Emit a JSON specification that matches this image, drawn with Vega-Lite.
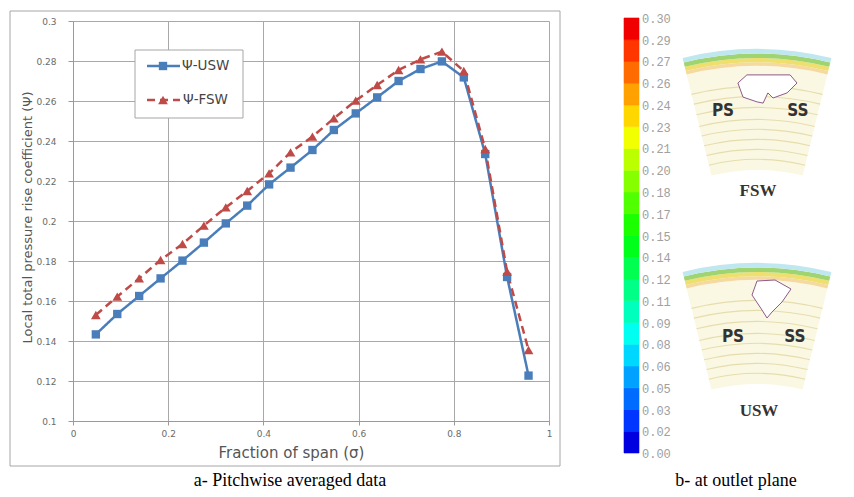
{
 "$schema": "https://vega.github.io/schema/vega-lite/v6.json",
 "width": 476,
 "height": 400,
 "autosize": "none",
 "padding": {"left": 73, "top": 21, "right": 305, "bottom": 76},
 "background": "white",
 "config": {"view": {"stroke": null}},
 "layer": [
  {
   "data": {"values": [
    {"s":"Ψ-USW","sigma":0.048,"psi":0.1433},{"s":"Ψ-USW","sigma":0.093,"psi":0.1535},{"s":"Ψ-USW","sigma":0.139,"psi":0.1625},
    {"s":"Ψ-USW","sigma":0.184,"psi":0.1713},{"s":"Ψ-USW","sigma":0.230,"psi":0.1802},{"s":"Ψ-USW","sigma":0.275,"psi":0.1892},
    {"s":"Ψ-USW","sigma":0.321,"psi":0.1988},{"s":"Ψ-USW","sigma":0.366,"psi":0.2077},{"s":"Ψ-USW","sigma":0.412,"psi":0.2183},
    {"s":"Ψ-USW","sigma":0.457,"psi":0.2267},{"s":"Ψ-USW","sigma":0.503,"psi":0.2355},{"s":"Ψ-USW","sigma":0.548,"psi":0.2455},
    {"s":"Ψ-USW","sigma":0.594,"psi":0.2538},{"s":"Ψ-USW","sigma":0.639,"psi":0.2618},{"s":"Ψ-USW","sigma":0.684,"psi":0.2700},
    {"s":"Ψ-USW","sigma":0.730,"psi":0.2760},{"s":"Ψ-USW","sigma":0.775,"psi":0.2798},{"s":"Ψ-USW","sigma":0.821,"psi":0.2718},
    {"s":"Ψ-USW","sigma":0.866,"psi":0.2335},{"s":"Ψ-USW","sigma":0.912,"psi":0.1720},{"s":"Ψ-USW","sigma":0.957,"psi":0.1227},
    {"s":"Ψ-FSW","sigma":0.048,"psi":0.1530},{"s":"Ψ-FSW","sigma":0.093,"psi":0.1622},{"s":"Ψ-FSW","sigma":0.139,"psi":0.1713},
    {"s":"Ψ-FSW","sigma":0.184,"psi":0.1805},{"s":"Ψ-FSW","sigma":0.230,"psi":0.1885},{"s":"Ψ-FSW","sigma":0.275,"psi":0.1977},
    {"s":"Ψ-FSW","sigma":0.321,"psi":0.2068},{"s":"Ψ-FSW","sigma":0.366,"psi":0.2150},{"s":"Ψ-FSW","sigma":0.412,"psi":0.2238},
    {"s":"Ψ-FSW","sigma":0.457,"psi":0.2343},{"s":"Ψ-FSW","sigma":0.503,"psi":0.2422},{"s":"Ψ-FSW","sigma":0.548,"psi":0.2513},
    {"s":"Ψ-FSW","sigma":0.594,"psi":0.2602},{"s":"Ψ-FSW","sigma":0.639,"psi":0.2680},{"s":"Ψ-FSW","sigma":0.684,"psi":0.2755},
    {"s":"Ψ-FSW","sigma":0.730,"psi":0.2808},{"s":"Ψ-FSW","sigma":0.775,"psi":0.2847},{"s":"Ψ-FSW","sigma":0.821,"psi":0.2750},
    {"s":"Ψ-FSW","sigma":0.866,"psi":0.2360},{"s":"Ψ-FSW","sigma":0.912,"psi":0.1747},{"s":"Ψ-FSW","sigma":0.957,"psi":0.1355}
   ]},
   "encoding": {
    "x": {"field":"sigma","type":"quantitative","scale":{"domain":[0,1],"nice":false,"zero":false},
     "axis":{"values":[0,0.2,0.4,0.6,0.8,1],"format":"~g","title":"Fraction of span (σ)","titleX":218,"titleY":31,"titleBaseline":"middle",
      "titleFont":"DejaVu Sans","titleFontSize":15,"titleFontWeight":"normal","titleColor":"#555555",
      "labelFont":"DejaVu Sans","labelFontSize":9,"labelColor":"#6A6A6A","labelPadding":4,"labelFlush":false,"labelOverlap":false,
      "tickSize":4,"tickColor":"#9A9A9A","domainColor":"#9A9A9A","grid":true,"gridColor":"#A8A8A8","gridWidth":1}},
    "y": {"field":"psi","type":"quantitative","scale":{"domain":[0.1,0.3],"nice":false,"zero":false},
     "axis":{"values":[0.1,0.12,0.14,0.16,0.18,0.2,0.22,0.24,0.26,0.28,0.3],"format":"~g","title":"Local total pressure rise coefficient (Ψ)",
      "titleX":-46,"titleY":196,"titleBaseline":"middle","titleFont":"DejaVu Sans","titleFontSize":13,"titleFontWeight":"normal","titleColor":"#555555",
      "labelFont":"DejaVu Sans","labelFontSize":9,"labelColor":"#6A6A6A","labelPadding":12,"labelFlush":false,"labelOverlap":false,
      "tickSize":5,"tickColor":"#9A9A9A","domainColor":"#9A9A9A","grid":true,"gridColor":"#A8A8A8","gridWidth":1}}
   },
   "layer": [
    {"mark": {"type":"line","strokeWidth":2.5},
     "encoding": {
      "color": {"field":"s","type":"nominal","scale":{"domain":["Ψ-USW","Ψ-FSW"],"range":["#4A7EBB","#BE4B48"]},"legend":null},
      "strokeDash": {"field":"s","type":"nominal","scale":{"domain":["Ψ-USW","Ψ-FSW"],"range":[[1,0],[8,5]]},"legend":null}}},
    {"mark": {"type":"point","filled":true,"opacity":1},
     "encoding": {
      "color": {"field":"s","type":"nominal","scale":{"domain":["Ψ-USW","Ψ-FSW"],"range":["#4A7EBB","#BE4B48"]},"legend":null},
      "size": {"field":"s","type":"nominal","scale":{"domain":["Ψ-USW","Ψ-FSW"],"range":[70,95]},"legend":null},
      "shape": {"field":"s","type":"nominal","scale":{"domain":["Ψ-USW","Ψ-FSW"],"range":["square","triangle-up"]},"legend":null}}}
   ]
  },
  {
   "layer": [
    {
     "layer": [
      {"data": {"values": [
        {"lo":0,"hi":0.015},{"lo":0.015,"hi":0.03},{"lo":0.03,"hi":0.045},{"lo":0.045,"hi":0.06},{"lo":0.06,"hi":0.075},
        {"lo":0.075,"hi":0.09},{"lo":0.09,"hi":0.105},{"lo":0.105,"hi":0.12},{"lo":0.12,"hi":0.135},{"lo":0.135,"hi":0.15},
        {"lo":0.15,"hi":0.165},{"lo":0.165,"hi":0.18},{"lo":0.18,"hi":0.195},{"lo":0.195,"hi":0.21},{"lo":0.21,"hi":0.225},
        {"lo":0.225,"hi":0.24},{"lo":0.24,"hi":0.255},{"lo":0.255,"hi":0.27},{"lo":0.27,"hi":0.285},{"lo":0.285,"hi":0.3}
       ]},
       "mark": {"type":"rect","strokeWidth":0.6},
       "encoding": {
        "x": {"datum":624,"type":"quantitative","scale":{"domain":[73,549],"nice":false,"zero":false},"axis":null},
        "x2": {"datum":639},
        "y": {"field":"lo","type":"quantitative","scale":{"domain":[0.02207,0.29793],"nice":false,"zero":false},"axis":null},
        "y2": {"field":"hi"},
        "color": {"field":"lo","type":"ordinal","sort":"ascending","scale":{"range":["#0000E0","#0036FF","#006BFF","#00A1FF","#00D7FF","#00FFF1","#00FFBC","#00FF86","#00FF50","#00FF1B","#1BFF00","#50FF00","#86FF00","#BCFF00","#F1FF00","#FFD700","#FFA100","#FF6B00","#FF3600","#F00000"]},"legend":null},
        "stroke": {"field":"lo","type":"ordinal","sort":"ascending","scale":{"range":["#0000E0","#0036FF","#006BFF","#00A1FF","#00D7FF","#00FFF1","#00FFBC","#00FF86","#00FF50","#00FF1B","#1BFF00","#50FF00","#86FF00","#BCFF00","#F1FF00","#FFD700","#FFA100","#FF6B00","#FF3600","#F00000"]},"legend":null}
       }},
      {"data": {"values": [
        {"v":0.3,"label":"0.30"},{"v":0.285,"label":"0.29"},{"v":0.27,"label":"0.27"},{"v":0.255,"label":"0.26"},
        {"v":0.24,"label":"0.24"},{"v":0.225,"label":"0.23"},{"v":0.21,"label":"0.21"},{"v":0.195,"label":"0.20"},
        {"v":0.18,"label":"0.18"},{"v":0.165,"label":"0.17"},{"v":0.15,"label":"0.15"},{"v":0.135,"label":"0.14"},
        {"v":0.12,"label":"0.12"},{"v":0.105,"label":"0.11"},{"v":0.09,"label":"0.09"},{"v":0.075,"label":"0.08"},
        {"v":0.06,"label":"0.06"},{"v":0.045,"label":"0.05"},{"v":0.03,"label":"0.03"},{"v":0.015,"label":"0.02"},{"v":0,"label":"0.00"}
       ]},
       "mark": {"type":"text","align":"left","baseline":"middle","font":"Liberation Mono","fontSize":12,"fill":"#A0A0A0","dy":1},
       "encoding": {
        "x": {"datum":642,"type":"quantitative","scale":{"domain":[73,549],"nice":false,"zero":false},"axis":null},
        "y": {"field":"v","type":"quantitative","scale":{"domain":[0.02207,0.29793],"nice":false,"zero":false},"axis":null},
        "text": {"field":"label"}
       }}
     ],
     "resolve": {"scale": {"stroke": "independent"}}
    },
    {
     "data": {"values": [
      {"fan":"FSW","band":"hub","r0":0,"r1":0.86},{"fan":"USW","band":"hub","r0":0,"r1":0.86},
      {"fan":"FSW","band":"pale","r0":0.86,"r1":0.89},{"fan":"USW","band":"pale","r0":0.86,"r1":0.89},
      {"fan":"FSW","band":"yellow","r0":0.89,"r1":0.925},{"fan":"USW","band":"yellow","r0":0.89,"r1":0.925},
      {"fan":"FSW","band":"green","r0":0.925,"r1":0.962},{"fan":"USW","band":"green","r0":0.925,"r1":0.962},
      {"fan":"FSW","band":"cyan","r0":0.962,"r1":1.0},{"fan":"USW","band":"cyan","r0":0.962,"r1":1.0},
      {"fan":"FSW","band":"line","r0":0.083,"r1":0.092},{"fan":"FSW","band":"line","r0":0.165,"r1":0.174},
      {"fan":"FSW","band":"line","r0":0.248,"r1":0.257},{"fan":"FSW","band":"line","r0":0.331,"r1":0.340},
      {"fan":"FSW","band":"line","r0":0.413,"r1":0.422},{"fan":"FSW","band":"line","r0":0.512,"r1":0.521},
      {"fan":"FSW","band":"line","r0":0.603,"r1":0.612},{"fan":"FSW","band":"line","r0":0.686,"r1":0.695},
      {"fan":"USW","band":"line","r0":0.083,"r1":0.092},{"fan":"USW","band":"line","r0":0.165,"r1":0.174},
      {"fan":"USW","band":"line","r0":0.248,"r1":0.257},{"fan":"USW","band":"line","r0":0.331,"r1":0.340},
      {"fan":"USW","band":"line","r0":0.413,"r1":0.422},{"fan":"USW","band":"line","r0":0.512,"r1":0.521},
      {"fan":"USW","band":"line","r0":0.603,"r1":0.612},{"fan":"USW","band":"line","r0":0.686,"r1":0.695}
     ]},
     "mark": {"type":"arc","theta":-0.24,"theta2":0.24},
     "encoding": {
      "x": {"datum":757,"type":"quantitative","scale":{"domain":[73,549],"nice":false,"zero":false},"axis":null},
      "y": {"field":"fan","type":"nominal","scale":{"type":"point","domain":["FSW","USW"],"range":[341,555],"padding":0},"axis":null},
      "radius": {"field":"r1","type":"quantitative","scale":{"type":"linear","domain":[0,1],"range":[192,313],"zero":false}},
      "radius2": {"field":"r0"},
      "fill": {"field":"band","type":"nominal","scale":{"domain":["hub","pale","yellow","green","cyan","line"],"range":["#FAF8E2","#F5D9A0","#EEDF6E","#9FD470","#BFE7EF","#E6DDAE"]},"legend":null}
     }
    },
    {
     "data": {"values": [{}]},
     "encoding": {
      "x": {"datum":0,"type":"quantitative","scale":{"domain":[73,549],"nice":false,"zero":false},"axis":null},
      "y": {"datum":0,"type":"quantitative","scale":{"domain":[21,421],"nice":false,"zero":false,"reverse":true},"axis":null}
     },
     "layer": [
      {"mark": {"type":"rect","fillOpacity":0,"stroke":"#A6A6A6","strokeWidth":1},
       "encoding": {"x":{"datum":10},"x2":{"datum":560},"y":{"datum":11},"y2":{"datum":466}}},
      {"mark": {"type":"rect","fill":"white","stroke":"#A6A6A6","strokeWidth":1},
       "encoding": {"x":{"datum":135},"x2":{"datum":243},"y":{"datum":50},"y2":{"datum":118}}},
      {"mark": {"type":"rule","stroke":"#4A7EBB","strokeWidth":2.5},
       "encoding": {"x":{"datum":147},"x2":{"datum":180},"y":{"datum":66}}},
      {"mark": {"type":"point","shape":"square","filled":true,"color":"#4A7EBB","opacity":1,"size":70},
       "encoding": {"x":{"datum":163},"y":{"datum":66}}},
      {"mark": {"type":"text","text":"Ψ-USW","align":"left","baseline":"middle","font":"DejaVu Sans","fontSize":13.5,"fill":"#444444"},
       "encoding": {"x":{"datum":182},"y":{"datum":66}}},
      {"mark": {"type":"rule","stroke":"#BE4B48","strokeWidth":2.5,"strokeDash":[8,5]},
       "encoding": {"x":{"datum":147},"x2":{"datum":180},"y":{"datum":100}}},
      {"mark": {"type":"point","shape":"triangle-up","filled":true,"color":"#BE4B48","opacity":1,"size":95},
       "encoding": {"x":{"datum":163},"y":{"datum":100}}},
      {"mark": {"type":"text","text":"Ψ-FSW","align":"left","baseline":"middle","font":"DejaVu Sans","fontSize":13.5,"fill":"#444444"},
       "encoding": {"x":{"datum":183},"y":{"datum":100}}},
      {"mark": {"type":"point","shape":"M-0.67,-0.47 L0.77,-0.47 L1,-0.2 L0.67,0.13 L0.2,0.3 L0.03,0.13 L-0.13,0.47 L-0.33,0.43 L-0.8,0.27 L-0.97,-0.2 Z","filled":true,"fill":"white","stroke":"#8E5A8A","strokeWidth":1,"opacity":1,"size":3600},
       "encoding": {"x":{"datum":767},"y":{"datum":89}}},
      {"mark": {"type":"point","shape":"M-0.65,-0.85 L0.25,-0.9 L1.05,-0.45 L0.6,0.2 L0.1,0.7 L-0.15,1 L-0.4,0.6 L-0.9,-0.15 Z","filled":true,"fill":"white","stroke":"#8E5A8A","strokeWidth":1,"opacity":1,"size":1600},
       "encoding": {"x":{"datum":770},"y":{"datum":298}}},
      {"mark": {"type":"text","text":"PS","align":"center","baseline":"middle","font":"Liberation Sans Narrow, DejaVu Sans Condensed, sans-serif","fontSize":17,"fontWeight":"bold","fill":"#333333"},
       "encoding": {"x":{"datum":723},"y":{"datum":111}}},
      {"mark": {"type":"text","text":"SS","align":"center","baseline":"middle","font":"Liberation Sans Narrow, DejaVu Sans Condensed, sans-serif","fontSize":17,"fontWeight":"bold","fill":"#333333"},
       "encoding": {"x":{"datum":798},"y":{"datum":111}}},
      {"mark": {"type":"text","text":"PS","align":"center","baseline":"middle","font":"Liberation Sans Narrow, DejaVu Sans Condensed, sans-serif","fontSize":17,"fontWeight":"bold","fill":"#333333"},
       "encoding": {"x":{"datum":733},"y":{"datum":337}}},
      {"mark": {"type":"text","text":"SS","align":"center","baseline":"middle","font":"Liberation Sans Narrow, DejaVu Sans Condensed, sans-serif","fontSize":17,"fontWeight":"bold","fill":"#333333"},
       "encoding": {"x":{"datum":795},"y":{"datum":337}}},
      {"mark": {"type":"text","text":"FSW","align":"center","baseline":"middle","font":"Liberation Serif","fontSize":17,"fontWeight":"bold","fill":"#333333"},
       "encoding": {"x":{"datum":758},"y":{"datum":191}}},
      {"mark": {"type":"text","text":"USW","align":"center","baseline":"middle","font":"Liberation Serif","fontSize":17,"fontWeight":"bold","fill":"#333333"},
       "encoding": {"x":{"datum":759},"y":{"datum":411}}},
      {"mark": {"type":"text","text":"a- Pitchwise averaged data","align":"center","baseline":"middle","font":"Liberation Serif","fontSize":18,"fill":"#000000"},
       "encoding": {"x":{"datum":290},"y":{"datum":481}}},
      {"mark": {"type":"text","text":"b- at outlet plane","align":"center","baseline":"middle","font":"Liberation Serif","fontSize":18,"fill":"#000000"},
       "encoding": {"x":{"datum":736},"y":{"datum":481}}}
     ]
    }
   ],
   "resolve": {"scale": {"y": "independent", "color": "independent", "fill": "independent"}}
  }
 ],
 "resolve": {"scale": {"x": "independent", "y": "independent", "color": "independent", "fill": "independent", "shape": "independent", "strokeDash": "independent", "radius": "independent", "size": "independent", "stroke": "independent"}}
}
